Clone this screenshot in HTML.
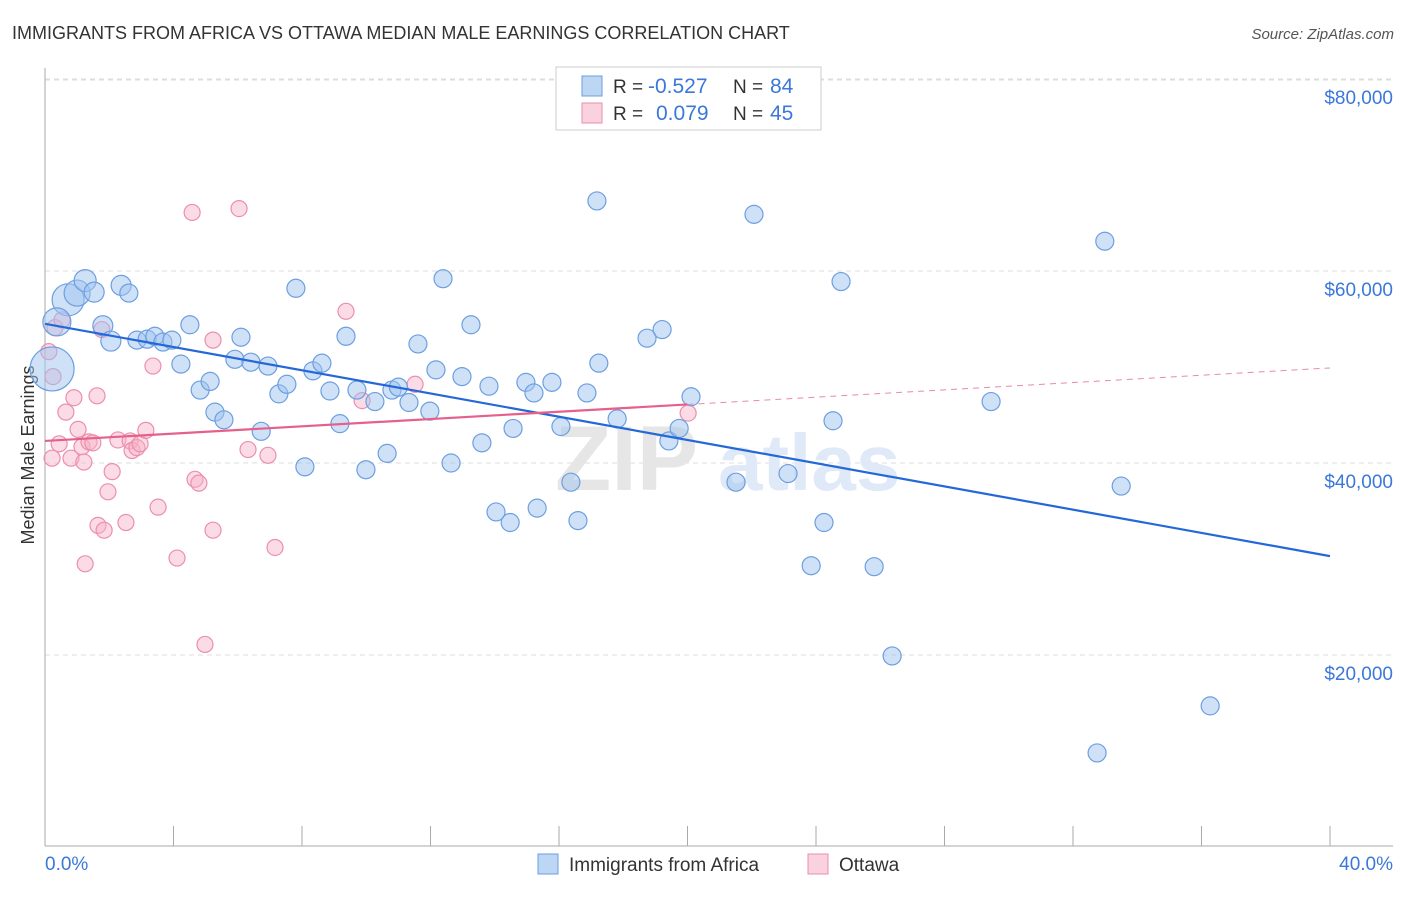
<!DOCTYPE html>
<html><head><meta charset="utf-8"><style>
body{margin:0;background:#fff;font-family:"Liberation Sans",sans-serif}
svg text{font-family:"Liberation Sans",sans-serif}
</style></head><body>
<svg id="c" width="1406" height="892"></svg>
<script>
const blueX=[0.22,0.72,0.37,1.0,1.25,1.53,1.8,2.05,2.37,2.61,2.86,3.18,3.42,3.67,3.95,4.23,4.51,4.83,5.14,5.29,5.57,5.91,6.1,6.41,6.73,6.94,7.28,7.53,7.81,8.09,8.34,8.62,8.87,9.18,9.37,9.71,9.99,10.27,10.65,10.8,11.0,11.33,11.61,11.98,12.17,12.39,12.64,12.98,13.26,13.6,13.82,14.04,14.48,14.57,14.97,15.22,15.32,15.78,16.06,16.37,16.59,16.87,17.18,17.24,17.81,18.74,19.21,19.42,19.74,20.11,21.51,22.07,23.13,23.85,24.25,24.53,24.78,25.81,26.37,29.45,32.75,32.99,33.5,36.27];
const blueY=[49.8,57.0,54.7,57.7,59.0,57.8,54.3,52.7,58.5,57.7,52.8,52.9,53.2,52.6,52.8,50.3,54.4,47.6,48.5,45.3,44.5,50.8,53.1,50.5,43.3,50.1,47.2,48.2,58.2,39.6,49.6,50.4,47.5,44.1,53.2,47.6,39.3,46.4,41.0,47.6,47.9,46.3,52.4,45.4,49.7,59.2,40.0,49.0,54.4,42.1,48.0,34.9,33.8,43.6,48.4,47.3,35.3,48.4,43.8,38.0,34.0,47.3,67.3,50.4,44.6,53.0,53.9,42.3,43.6,46.9,38.0,65.9,38.9,29.3,33.8,44.4,58.9,29.2,19.9,46.4,9.8,63.1,37.6,14.7];
const blueR=[22,16,14,13,11,10,10,10,10,9];
const pinkX=[0.12,0.25,0.31,0.53,0.22,0.44,0.65,0.81,0.9,1.03,1.15,1.21,1.37,1.49,1.62,1.65,1.84,1.25,1.77,1.96,2.09,2.27,2.52,2.65,2.71,2.86,2.96,3.14,3.36,3.52,4.11,4.58,4.67,4.79,4.98,5.23,5.23,6.04,6.32,6.94,7.16,9.37,9.87,11.52,20.02];
const pinkY=[51.6,49.0,54.1,54.9,40.5,42.0,45.3,40.5,46.8,43.5,41.7,40.1,42.2,42.1,47.0,33.5,33.0,29.5,53.9,37.0,39.1,42.4,33.8,42.3,41.3,41.6,42.0,43.4,50.1,35.4,30.1,66.1,38.3,37.9,21.1,33.0,52.8,66.5,41.4,40.8,31.2,55.8,46.5,48.2,45.2];
const blueTrend=[[0,54.5],[40,30.3]];
const pinkTrend=[[0,42.3],[20,46.1],[40,49.9]];
const yTicks=[20000,40000,60000,80000];
const yTickLabels=["$20,000","$40,000","$60,000","$80,000"];

const NS="http://www.w3.org/2000/svg",svg=document.getElementById('c');
const X=v=>45+v/40*1285, Y=v=>847-v/20*192;
function el(t,a,p){const e=document.createElementNS(NS,t);for(const k in a)e.setAttribute(k,a[k]);(p||svg).appendChild(e);return e;}
function tx(s,a){const e=el('text',a);e.textContent=s;return e;}
let t=tx("IMMIGRANTS FROM AFRICA VS OTTAWA MEDIAN MALE EARNINGS CORRELATION CHART",{x:12,y:39,'font-size':18,fill:'#333'});

t=tx("Source: ZipAtlas.com",{x:1394,y:39,'font-size':15,fill:'#555','text-anchor':'end','font-style':'italic'});

yTicks.forEach((v,i)=>{let g=el('line',{x1:45,x2:1393,y1:Y(v/1000),y2:Y(v/1000),stroke:'#ddd','stroke-dasharray':'5,4'});

let l=tx(yTickLabels[i],{x:1393,y:Y(v/1000)+25,'font-size':19,fill:'#3b78d8','text-anchor':'end'});
});
el('line',{x1:45,x2:1393,y1:80,y2:80,stroke:'#ddd','stroke-dasharray':'5,4'});
let ax=el('line',{x1:45,x2:45,y1:68,y2:846,stroke:'#aaa'});
ax=el('line',{x1:45,x2:1393,y1:846,y2:846,stroke:'#aaa'});
for(let i=0;i<=10;i++){let k=el('line',{x1:X(i*4),x2:X(i*4),y1:826,y2:846,stroke:'#aaa'});}
t=tx("0.0%",{x:45,y:870,'font-size':19,fill:'#3b78d8'});
t=tx("40.0%",{x:1393,y:870,'font-size':19,fill:'#3b78d8','text-anchor':'end'});
t=tx("Median Male Earnings",{x:34,y:455,'font-size':18,fill:'#333','text-anchor':'middle',transform:'rotate(-90 34 455)'});

t=tx("ZIP",{x:555,y:490,'font-size':92,fill:'#e6e6e6','font-family':'Liberation Serif','font-weight':'bold'});
t=tx("atlas",{x:718,y:490,'font-size':80,fill:'#dfe9f7','font-weight':'bold'});
pinkX.forEach((x,i)=>{let c=el('circle',{cx:X(x),cy:Y(pinkY[i]),r:8,fill:'rgba(246,178,200,0.45)',stroke:'#eb8fae','stroke-width':1.2});
});
blueX.forEach((x,i)=>{let c=el('circle',{cx:X(x),cy:Y(blueY[i]),r:blueR[i]||9,fill:'rgba(160,196,240,0.5)',stroke:'#6d9fe0','stroke-width':1.2});
});
let ln=el('line',{x1:X(blueTrend[0][0]),y1:Y(blueTrend[0][1]),x2:X(blueTrend[1][0]),y2:Y(blueTrend[1][1]),stroke:'#2468d8','stroke-width':2.2});

ln=el('line',{x1:X(pinkTrend[0][0]),y1:Y(pinkTrend[0][1]),x2:X(pinkTrend[1][0]),y2:Y(pinkTrend[1][1]),stroke:'#e5608a','stroke-width':2.2});

ln=el('line',{x1:X(pinkTrend[1][0]),y1:Y(pinkTrend[1][1]),x2:X(pinkTrend[2][0]),y2:Y(pinkTrend[2][1]),stroke:'#e88aa8','stroke-width':1,'stroke-dasharray':'6,5'});

// legend box
let lg=el('rect',{x:556,y:67,width:265,height:63,fill:'#fff',stroke:'#ccc'});
[[86,'rgba(160,196,240,0.7)','#6d9fe0','-0.527','84'],[113,'rgba(246,178,200,0.6)','#eb8fae','0.079','45']].forEach((r,i)=>{
 let s=el('rect',{x:582,y:r[0]-10,width:20,height:20,fill:r[1],stroke:r[2]});
 let a=tx("R = ",{x:613,y:r[0]+7,'font-size':19,fill:'#333'});
 a=tx(r[3],{x:i?656:648,y:r[0]+7,'font-size':21,fill:'#3b78d8'});
 a=tx("N = ",{x:733,y:r[0]+7,'font-size':19,fill:'#333'});
 a=tx(r[4],{x:770,y:r[0]+7,'font-size':21,fill:'#3b78d8'});
});
// bottom legend
let b=el('rect',{x:538,y:854,width:20,height:20,fill:'rgba(160,196,240,0.7)',stroke:'#6d9fe0'});
b=tx("Immigrants from Africa",{x:569,y:871,'font-size':19,fill:'#333'});
b=el('rect',{x:808,y:854,width:20,height:20,fill:'rgba(246,178,200,0.6)',stroke:'#eb8fae'});
b=tx("Ottawa",{x:839,y:871,'font-size':19,fill:'#333'});
</script>
</body></html>
